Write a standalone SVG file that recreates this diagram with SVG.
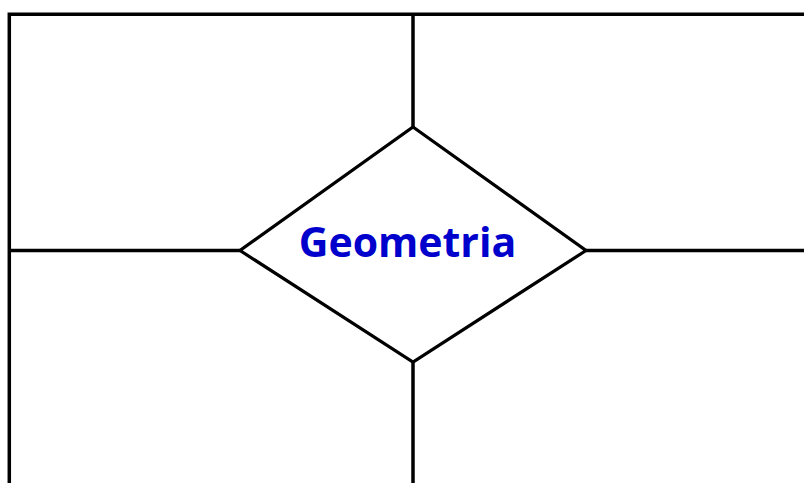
<svg xmlns="http://www.w3.org/2000/svg" width="804" height="483" viewBox="0 0 804 483">
<style>
.ln{stroke:#000;stroke-width:3.5;fill:none;stroke-linecap:butt}
.dm{stroke:#000;stroke-width:3.2;fill:#fff;stroke-linejoin:miter}
.lbl{font-family:"Open Sans","Noto Sans",sans-serif;font-weight:bold;font-size:41px;fill:#0000CC}
</style>
<rect width="804" height="483" fill="#fff"/>
<g id="connectors">
<path class="ln" d="M9.3 483 V14.3 H806"/>
<path class="ln" d="M413 14.3 V127"/>
<path class="ln" d="M413 362 V483"/>
<path class="ln" d="M9.3 250.5 H240"/>
<path class="ln" d="M586 250.5 H806"/>
</g>
<g id="geometria">
<polygon class="dm" points="413,127 586,250.5 413,362 240,250.5"/>
<text class="lbl" x="407.5" y="257" text-anchor="middle">Geometria</text>
</g>
</svg>
